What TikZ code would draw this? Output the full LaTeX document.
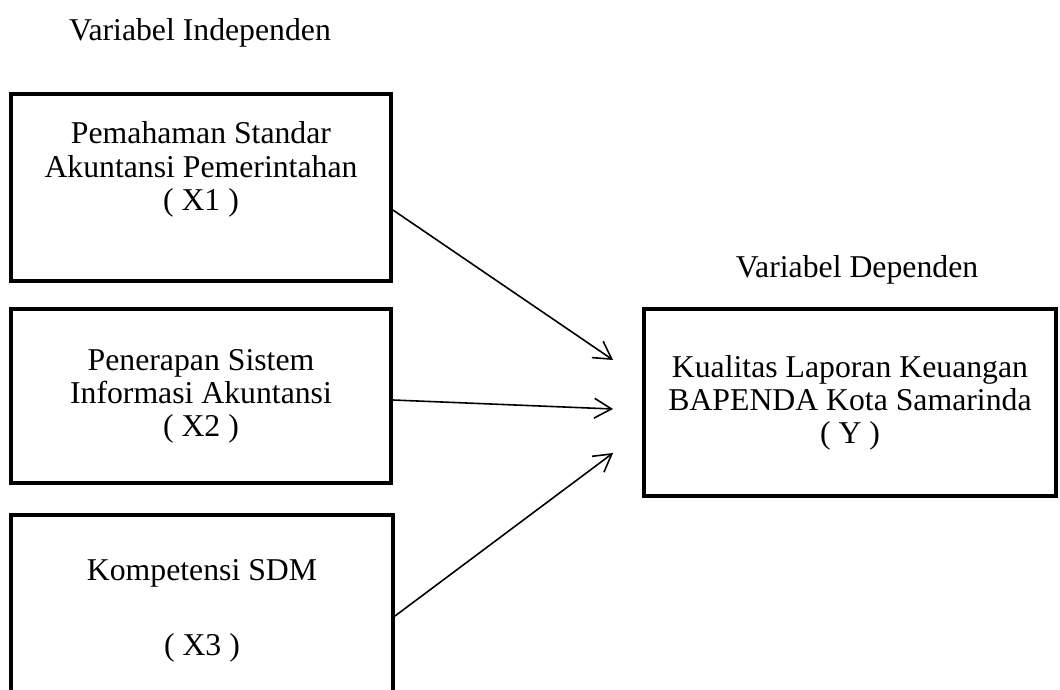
\documentclass[tikz,border=0pt]{standalone}
\usepackage{fontspec}
\setmainfont{Liberation Serif}
\usetikzlibrary{arrows.meta,positioning,calc}

\begin{document}
\begin{tikzpicture}[x=0.378pt,y=-0.378pt,font=\fontsize{12}{12.5}\selectfont]
	\tikzset{varbox/.style={draw,line width=1.5pt,align=center,inner sep=0pt},
		link/.style={-{Straight Barb[length=6.5pt,width=7.5pt]},line width=0.6pt}}
	\useasboundingbox (0,0) rectangle (1060,690);

	%% Variabel independen
	\node[anchor=base] (indep) at (200,40) {Variabel Independen};
	\node[varbox,minimum width=143.6pt,minimum height=70.7pt] (x1) at (201,187.5)
		{Pemahaman Standar\\Akuntansi Pemerintahan\\( X1 )\\\strut};
	\node[varbox,minimum width=143.6pt,minimum height=65.8pt] (x2) at (201,396)
		{Penerapan Sistem\\Informasi Akuntansi\\( X2 )};
	\node[varbox,minimum width=144.4pt,minimum height=72.6pt] (x3) at (202,611)
		{Kompetensi SDM\\[15.8pt]( X3 )};

	%% Variabel dependen
	\node[anchor=base] (dep) at (857,277) {Variabel Dependen};
	\node[varbox,minimum width=155.7pt,minimum height=70.7pt] (y) at (850,402.5)
		{Kualitas Laporan Keuangan\\BAPENDA Kota Samarinda\\( Y )};

	%% Panah
	\coordinate (t1) at ($(y.west)+(-29,-42.5)$);
	\coordinate (t2) at ($(y.west)+(-29,6.5)$);
	\coordinate (t3) at ($(y.west)+(-29,50.5)$);
	\draw[link] ($(x1.east)+(0,22.5)$) -- (t1);
	\draw[link] ($(x2.east)+(0,4)$) -- (t2);
	\draw[link] ($(x3.east)+(0,5)$) -- (t3);
\end{tikzpicture}
\end{document}
